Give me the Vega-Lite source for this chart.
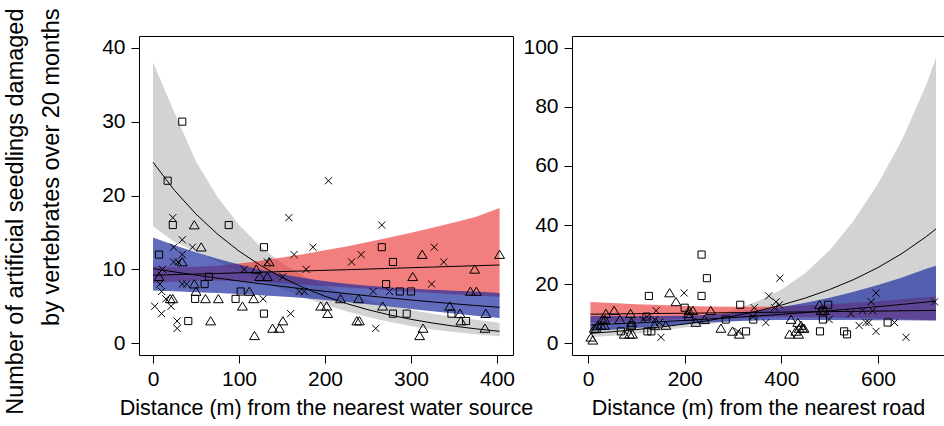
{
  "$schema": "https://vega.github.io/schema/vega-lite/v6.json",
  "background": "white",
  "padding": {"left": 2, "top": 7, "right": 0, "bottom": 0},
  "autosize": {"type": "pad"},
  "bounds": "flush",
  "spacing": 59,
  "config": {
    "view": {"stroke": "black", "strokeWidth": 1},
    "axis": {"domain": false, "grid": false, "tickColor": "black", "tickSize": 8, "labelFont": "Liberation Sans", "labelFontSize": 21, "labelColor": "black", "titleFont": "Liberation Sans", "titleFontSize": 21.5, "titleFontWeight": "normal", "titleColor": "black", "labelPadding": 5, "titlePadding": 8},
    "axisY": {"labelPadding": 6}
  },
  "datasets": {
    "leftBands": [
      {"g": "gray", "x": 0, "lo": 15.8, "fit": 24.5, "hi": 38.0},
      {"g": "gray", "x": 25, "lo": 13.7, "fit": 20.69, "hi": 31.2},
      {"g": "gray", "x": 50, "lo": 12.4, "fit": 17.48, "hi": 24.6},
      {"g": "gray", "x": 75, "lo": 11.0, "fit": 14.77, "hi": 19.8},
      {"g": "gray", "x": 100, "lo": 9.71, "fit": 12.47, "hi": 16.0},
      {"g": "gray", "x": 125, "lo": 8.45, "fit": 10.53, "hi": 13.1},
      {"g": "gray", "x": 150, "lo": 7.29, "fit": 8.9, "hi": 10.87},
      {"g": "gray", "x": 175, "lo": 6.19, "fit": 7.52, "hi": 9.14},
      {"g": "gray", "x": 200, "lo": 5.2, "fit": 6.35, "hi": 7.75},
      {"g": "gray", "x": 225, "lo": 4.31, "fit": 5.37, "hi": 6.69},
      {"g": "gray", "x": 250, "lo": 3.53, "fit": 4.53, "hi": 5.82},
      {"g": "gray", "x": 275, "lo": 2.87, "fit": 3.83, "hi": 5.12},
      {"g": "gray", "x": 300, "lo": 2.32, "fit": 3.23, "hi": 4.5},
      {"g": "gray", "x": 325, "lo": 1.87, "fit": 2.73, "hi": 3.99},
      {"g": "gray", "x": 350, "lo": 1.5, "fit": 2.31, "hi": 3.55},
      {"g": "gray", "x": 375, "lo": 1.2, "fit": 1.95, "hi": 3.17},
      {"g": "gray", "x": 403, "lo": 0.94, "fit": 1.61, "hi": 2.78},
      {"g": "red", "x": 0, "lo": 8.13, "fit": 9.2, "hi": 10.41},
      {"g": "red", "x": 25, "lo": 8.35, "fit": 9.28, "hi": 10.32},
      {"g": "red", "x": 50, "lo": 8.47, "fit": 9.36, "hi": 10.35},
      {"g": "red", "x": 75, "lo": 8.49, "fit": 9.44, "hi": 10.5},
      {"g": "red", "x": 100, "lo": 8.42, "fit": 9.53, "hi": 10.79},
      {"g": "red", "x": 125, "lo": 8.28, "fit": 9.61, "hi": 11.15},
      {"g": "red", "x": 150, "lo": 8.12, "fit": 9.7, "hi": 11.59},
      {"g": "red", "x": 175, "lo": 7.93, "fit": 9.78, "hi": 12.06},
      {"g": "red", "x": 200, "lo": 7.75, "fit": 9.87, "hi": 12.57},
      {"g": "red", "x": 225, "lo": 7.55, "fit": 9.95, "hi": 13.11},
      {"g": "red", "x": 250, "lo": 7.36, "fit": 10.04, "hi": 13.7},
      {"g": "red", "x": 275, "lo": 7.17, "fit": 10.13, "hi": 14.31},
      {"g": "red", "x": 300, "lo": 6.98, "fit": 10.22, "hi": 14.96},
      {"g": "red", "x": 325, "lo": 6.8, "fit": 10.31, "hi": 15.64},
      {"g": "red", "x": 350, "lo": 6.62, "fit": 10.4, "hi": 16.35},
      {"g": "red", "x": 375, "lo": 6.44, "fit": 10.49, "hi": 17.09},
      {"g": "red", "x": 403, "lo": 6.3, "fit": 10.59, "hi": 18.3},
      {"g": "blue", "x": 0, "lo": 7.12, "fit": 10.1, "hi": 14.32},
      {"g": "blue", "x": 25, "lo": 7.02, "fit": 9.65, "hi": 13.27},
      {"g": "blue", "x": 50, "lo": 6.91, "fit": 9.22, "hi": 12.3},
      {"g": "blue", "x": 75, "lo": 6.79, "fit": 8.81, "hi": 11.43},
      {"g": "blue", "x": 100, "lo": 6.66, "fit": 8.42, "hi": 10.65},
      {"g": "blue", "x": 125, "lo": 6.5, "fit": 8.05, "hi": 9.95},
      {"g": "blue", "x": 150, "lo": 6.32, "fit": 7.69, "hi": 9.35},
      {"g": "blue", "x": 175, "lo": 6.11, "fit": 7.35, "hi": 8.83},
      {"g": "blue", "x": 200, "lo": 5.86, "fit": 7.02, "hi": 8.4},
      {"g": "blue", "x": 225, "lo": 5.58, "fit": 6.71, "hi": 8.06},
      {"g": "blue", "x": 250, "lo": 5.28, "fit": 6.41, "hi": 7.78},
      {"g": "blue", "x": 275, "lo": 4.96, "fit": 6.12, "hi": 7.56},
      {"g": "blue", "x": 300, "lo": 4.64, "fit": 5.85, "hi": 7.38},
      {"g": "blue", "x": 325, "lo": 4.32, "fit": 5.59, "hi": 7.24},
      {"g": "blue", "x": 350, "lo": 4.01, "fit": 5.34, "hi": 7.11},
      {"g": "blue", "x": 375, "lo": 3.72, "fit": 5.1, "hi": 7.0},
      {"g": "blue", "x": 403, "lo": 3.42, "fit": 4.85, "hi": 6.8}
    ],
    "rightBands": [
      {"g": "gray", "x": 5, "lo": 2.01, "fit": 3.32, "hi": 5.47},
      {"g": "gray", "x": 50, "lo": 2.54, "fit": 3.87, "hi": 5.9},
      {"g": "gray", "x": 100, "lo": 3.28, "fit": 4.6, "hi": 6.45},
      {"g": "gray", "x": 150, "lo": 4.2, "fit": 5.46, "hi": 7.1},
      {"g": "gray", "x": 200, "lo": 5.29, "fit": 6.48, "hi": 7.94},
      {"g": "gray", "x": 250, "lo": 6.43, "fit": 7.7, "hi": 9.21},
      {"g": "gray", "x": 300, "lo": 7.45, "fit": 9.14, "hi": 11.2},
      {"g": "gray", "x": 350, "lo": 8.34, "fit": 10.85, "hi": 14.1},
      {"g": "gray", "x": 400, "lo": 9.18, "fit": 12.88, "hi": 18.07},
      {"g": "gray", "x": 450, "lo": 10.03, "fit": 15.3, "hi": 23.8},
      {"g": "gray", "x": 500, "lo": 10.9, "fit": 18.16, "hi": 31.5},
      {"g": "gray", "x": 550, "lo": 11.83, "fit": 21.56, "hi": 41.5},
      {"g": "gray", "x": 600, "lo": 12.81, "fit": 25.6, "hi": 54.0},
      {"g": "gray", "x": 650, "lo": 13.87, "fit": 30.4, "hi": 69.0},
      {"g": "gray", "x": 700, "lo": 15.0, "fit": 36.1, "hi": 87.5},
      {"g": "gray", "x": 720, "lo": 15.48, "fit": 38.67, "hi": 96.6},
      {"g": "red", "x": 5, "lo": 6.91, "fit": 9.81, "hi": 13.92},
      {"g": "red", "x": 50, "lo": 7.2, "fit": 9.89, "hi": 13.57},
      {"g": "red", "x": 100, "lo": 7.53, "fit": 9.97, "hi": 13.21},
      {"g": "red", "x": 150, "lo": 7.85, "fit": 10.06, "hi": 12.89},
      {"g": "red", "x": 200, "lo": 8.15, "fit": 10.15, "hi": 12.63},
      {"g": "red", "x": 250, "lo": 8.42, "fit": 10.23, "hi": 12.43},
      {"g": "red", "x": 300, "lo": 8.64, "fit": 10.32, "hi": 12.33},
      {"g": "red", "x": 350, "lo": 8.78, "fit": 10.41, "hi": 12.34},
      {"g": "red", "x": 400, "lo": 8.83, "fit": 10.5, "hi": 12.49},
      {"g": "red", "x": 450, "lo": 8.78, "fit": 10.59, "hi": 12.77},
      {"g": "red", "x": 500, "lo": 8.67, "fit": 10.68, "hi": 13.16},
      {"g": "red", "x": 550, "lo": 8.51, "fit": 10.78, "hi": 13.65},
      {"g": "red", "x": 600, "lo": 8.32, "fit": 10.87, "hi": 14.21},
      {"g": "red", "x": 650, "lo": 8.11, "fit": 10.97, "hi": 14.84},
      {"g": "red", "x": 700, "lo": 7.88, "fit": 11.06, "hi": 15.52},
      {"g": "red", "x": 720, "lo": 7.79, "fit": 11.1, "hi": 15.81},
      {"g": "blue", "x": 5, "lo": 4.09, "fit": 6.14, "hi": 9.2},
      {"g": "blue", "x": 50, "lo": 4.57, "fit": 6.47, "hi": 9.17},
      {"g": "blue", "x": 100, "lo": 5.14, "fit": 6.86, "hi": 9.16},
      {"g": "blue", "x": 150, "lo": 5.77, "fit": 7.28, "hi": 9.19},
      {"g": "blue", "x": 200, "lo": 6.42, "fit": 7.72, "hi": 9.3},
      {"g": "blue", "x": 250, "lo": 7.01, "fit": 8.19, "hi": 9.57},
      {"g": "blue", "x": 300, "lo": 7.46, "fit": 8.69, "hi": 10.12},
      {"g": "blue", "x": 350, "lo": 7.72, "fit": 9.22, "hi": 11.02},
      {"g": "blue", "x": 400, "lo": 7.83, "fit": 9.78, "hi": 12.22},
      {"g": "blue", "x": 450, "lo": 7.86, "fit": 10.37, "hi": 13.68},
      {"g": "blue", "x": 500, "lo": 7.86, "fit": 11.0, "hi": 15.4},
      {"g": "blue", "x": 550, "lo": 7.83, "fit": 11.67, "hi": 17.39},
      {"g": "blue", "x": 600, "lo": 7.79, "fit": 12.38, "hi": 19.67},
      {"g": "blue", "x": 650, "lo": 7.75, "fit": 13.14, "hi": 22.28},
      {"g": "blue", "x": 700, "lo": 7.69, "fit": 13.93, "hi": 25.23},
      {"g": "blue", "x": 720, "lo": 7.67, "fit": 14.27, "hi": 26.2}
    ],
    "leftPts": [
      {"x": 34, "y": 30, "s": "sq"}, {"x": 17, "y": 22, "s": "sq"}, {"x": 23, "y": 16, "s": "sq"}, {"x": 88, "y": 16, "s": "sq"},
      {"x": 129, "y": 13, "s": "sq"}, {"x": 7, "y": 12, "s": "sq"}, {"x": 65, "y": 9, "s": "sq"}, {"x": 60, "y": 8, "s": "sq"},
      {"x": 49, "y": 6, "s": "sq"}, {"x": 96, "y": 6, "s": "sq"}, {"x": 102, "y": 7, "s": "sq"}, {"x": 41, "y": 3, "s": "sq"},
      {"x": 129, "y": 4, "s": "sq"}, {"x": 266, "y": 13, "s": "sq"}, {"x": 279, "y": 11, "s": "sq"}, {"x": 271, "y": 8, "s": "sq"},
      {"x": 287, "y": 7, "s": "sq"}, {"x": 300, "y": 7, "s": "sq"}, {"x": 279, "y": 4, "s": "sq"}, {"x": 295, "y": 4, "s": "sq"},
      {"x": 347, "y": 4, "s": "sq"}, {"x": 364, "y": 3, "s": "sq"},
      {"x": 48, "y": 16, "s": "tri"}, {"x": 56, "y": 13, "s": "tri"}, {"x": 34, "y": 11, "s": "tri"}, {"x": 7, "y": 9, "s": "tri"},
      {"x": 48, "y": 8, "s": "tri"}, {"x": 50, "y": 7, "s": "tri"}, {"x": 20, "y": 6, "s": "tri"}, {"x": 23, "y": 6, "s": "tri"},
      {"x": 61, "y": 6, "s": "tri"}, {"x": 76, "y": 6, "s": "tri"}, {"x": 112, "y": 7, "s": "tri"}, {"x": 104, "y": 5, "s": "tri"},
      {"x": 117, "y": 6, "s": "tri"}, {"x": 67, "y": 3, "s": "tri"}, {"x": 118, "y": 1, "s": "tri"}, {"x": 151, "y": 3, "s": "tri"},
      {"x": 139, "y": 2, "s": "tri"}, {"x": 147, "y": 2, "s": "tri"}, {"x": 120, "y": 10, "s": "tri"}, {"x": 124, "y": 9, "s": "tri"},
      {"x": 133, "y": 9, "s": "tri"}, {"x": 135, "y": 11, "s": "tri"}, {"x": 195, "y": 5, "s": "tri"}, {"x": 202, "y": 5, "s": "tri"},
      {"x": 203, "y": 4, "s": "tri"}, {"x": 218, "y": 6, "s": "tri"}, {"x": 239, "y": 6, "s": "tri"}, {"x": 267, "y": 5, "s": "tri"},
      {"x": 237, "y": 3, "s": "tri"}, {"x": 240, "y": 3, "s": "tri"}, {"x": 313, "y": 12, "s": "tri"}, {"x": 403, "y": 12, "s": "tri"},
      {"x": 374, "y": 10, "s": "tri"}, {"x": 302, "y": 9, "s": "tri"}, {"x": 369, "y": 7, "s": "tri"}, {"x": 376, "y": 7, "s": "tri"},
      {"x": 345, "y": 5, "s": "tri"}, {"x": 357, "y": 4, "s": "tri"}, {"x": 387, "y": 4, "s": "tri"}, {"x": 358, "y": 3, "s": "tri"},
      {"x": 314, "y": 2, "s": "tri"}, {"x": 310, "y": 1, "s": "tri"}, {"x": 386, "y": 2, "s": "tri"},
      {"x": 204, "y": 22, "s": "x"}, {"x": 23, "y": 17, "s": "x"}, {"x": 158, "y": 17, "s": "x"}, {"x": 34, "y": 14, "s": "x"},
      {"x": 24, "y": 13, "s": "x"}, {"x": 46, "y": 13, "s": "x"}, {"x": 186, "y": 13, "s": "x"}, {"x": 164, "y": 12, "s": "x"},
      {"x": 24, "y": 11, "s": "x"}, {"x": 29, "y": 11, "s": "x"}, {"x": 34, "y": 12, "s": "x"}, {"x": 11, "y": 10, "s": "x"},
      {"x": 8, "y": 8, "s": "x"}, {"x": 34, "y": 8, "s": "x"}, {"x": 39, "y": 8, "s": "x"}, {"x": 10, "y": 7, "s": "x"},
      {"x": 15, "y": 6, "s": "x"}, {"x": 2, "y": 5, "s": "x"}, {"x": 21, "y": 5, "s": "x"}, {"x": 10, "y": 4, "s": "x"},
      {"x": 28, "y": 3, "s": "x"}, {"x": 28, "y": 2, "s": "x"}, {"x": 106, "y": 10, "s": "x"}, {"x": 128, "y": 6, "s": "x"},
      {"x": 151, "y": 9, "s": "x"}, {"x": 178, "y": 10, "s": "x"}, {"x": 170, "y": 7, "s": "x"}, {"x": 176, "y": 7, "s": "x"},
      {"x": 160, "y": 4, "s": "x"}, {"x": 266, "y": 16, "s": "x"}, {"x": 242, "y": 12, "s": "x"}, {"x": 231, "y": 11, "s": "x"},
      {"x": 256, "y": 7, "s": "x"}, {"x": 259, "y": 2, "s": "x"}, {"x": 327, "y": 13, "s": "x"}, {"x": 338, "y": 11, "s": "x"},
      {"x": 324, "y": 8, "s": "x"}, {"x": 275, "y": 7, "s": "x"}, {"x": 133, "y": 11, "s": "x"}
    ],
    "rightPts": [
      {"x": 235, "y": 30, "s": "sq"}, {"x": 246, "y": 22, "s": "sq"}, {"x": 126, "y": 16, "s": "sq"}, {"x": 235, "y": 16, "s": "sq"},
      {"x": 315, "y": 13, "s": "sq"}, {"x": 200, "y": 12, "s": "sq"}, {"x": 285, "y": 8, "s": "sq"}, {"x": 342, "y": 8, "s": "sq"},
      {"x": 68, "y": 4, "s": "sq"}, {"x": 123, "y": 4, "s": "sq"}, {"x": 327, "y": 4, "s": "sq"}, {"x": 90, "y": 6, "s": "sq"},
      {"x": 121, "y": 9, "s": "sq"}, {"x": 131, "y": 4, "s": "sq"}, {"x": 497, "y": 13, "s": "sq"}, {"x": 486, "y": 11, "s": "sq"},
      {"x": 486, "y": 8, "s": "sq"}, {"x": 480, "y": 4, "s": "sq"}, {"x": 530, "y": 4, "s": "sq"}, {"x": 536, "y": 3, "s": "sq"},
      {"x": 620, "y": 7, "s": "sq"},
      {"x": 169, "y": 17, "s": "tri"}, {"x": 182, "y": 14, "s": "tri"}, {"x": 54, "y": 11, "s": "tri"}, {"x": 37, "y": 10, "s": "tri"},
      {"x": 88, "y": 10, "s": "tri"}, {"x": 209, "y": 11, "s": "tri"}, {"x": 209, "y": 9, "s": "tri"}, {"x": 217, "y": 11, "s": "tri"},
      {"x": 254, "y": 11, "s": "tri"}, {"x": 66, "y": 8, "s": "tri"}, {"x": 30, "y": 8, "s": "tri"}, {"x": 35, "y": 8, "s": "tri"},
      {"x": 27, "y": 6, "s": "tri"}, {"x": 34, "y": 6, "s": "tri"}, {"x": 89, "y": 6, "s": "tri"}, {"x": 90, "y": 7, "s": "tri"},
      {"x": 138, "y": 6, "s": "tri"}, {"x": 161, "y": 6, "s": "tri"}, {"x": 223, "y": 7, "s": "tri"}, {"x": 241, "y": 8, "s": "tri"},
      {"x": 275, "y": 5, "s": "tri"}, {"x": 299, "y": 4, "s": "tri"}, {"x": 313, "y": 3, "s": "tri"}, {"x": 75, "y": 3, "s": "tri"},
      {"x": 92, "y": 3, "s": "tri"}, {"x": 86, "y": 3, "s": "tri"}, {"x": 6, "y": 2, "s": "tri"}, {"x": 10, "y": 1, "s": "tri"},
      {"x": 13, "y": 5, "s": "tri"}, {"x": 17, "y": 5, "s": "tri"}, {"x": 20, "y": 6, "s": "tri"}, {"x": 420, "y": 8, "s": "tri"},
      {"x": 434, "y": 7, "s": "tri"}, {"x": 441, "y": 6, "s": "tri"}, {"x": 437, "y": 5, "s": "tri"}, {"x": 447, "y": 5, "s": "tri"},
      {"x": 430, "y": 4, "s": "tri"}, {"x": 417, "y": 3, "s": "tri"}, {"x": 436, "y": 3, "s": "tri"}, {"x": 479, "y": 13, "s": "tri"},
      {"x": 482, "y": 11, "s": "tri"}, {"x": 489, "y": 11, "s": "tri"}, {"x": 444, "y": 5, "s": "tri"}, {"x": 208, "y": 10, "s": "tri"},
      {"x": 199, "y": 17, "s": "x"}, {"x": 141, "y": 11, "s": "x"}, {"x": 114, "y": 8, "s": "x"}, {"x": 122, "y": 9, "s": "x"},
      {"x": 138, "y": 8, "s": "x"}, {"x": 148, "y": 7, "s": "x"}, {"x": 151, "y": 2, "s": "x"}, {"x": 310, "y": 4, "s": "x"},
      {"x": 344, "y": 12, "s": "x"}, {"x": 397, "y": 22, "s": "x"}, {"x": 374, "y": 16, "s": "x"}, {"x": 389, "y": 14, "s": "x"},
      {"x": 396, "y": 13, "s": "x"}, {"x": 386, "y": 12, "s": "x"}, {"x": 341, "y": 9, "s": "x"}, {"x": 368, "y": 7, "s": "x"},
      {"x": 596, "y": 17, "s": "x"}, {"x": 586, "y": 14, "s": "x"}, {"x": 568, "y": 11, "s": "x"}, {"x": 589, "y": 11, "s": "x"},
      {"x": 544, "y": 10, "s": "x"}, {"x": 499, "y": 8, "s": "x"}, {"x": 561, "y": 6, "s": "x"}, {"x": 575, "y": 7, "s": "x"},
      {"x": 581, "y": 7, "s": "x"}, {"x": 634, "y": 7, "s": "x"}, {"x": 596, "y": 4, "s": "x"}, {"x": 658, "y": 2, "s": "x"},
      {"x": 717, "y": 14, "s": "x"}
    ]
  },
  "hconcat": [
    {
      "width": 374,
      "height": 319,
      "encoding": {
        "x": {"field": "x", "type": "quantitative", "scale": {"domain": [-16.3, 418.6], "nice": false, "zero": false},
          "axis": {"values": [0, 100, 200, 300, 400], "title": "Distance (m) from the nearest water source"}}
      },
      "layer": [
        {"data": {"name": "leftBands"}, "transform": [{"filter": "datum.g === 'gray'"}],
          "mark": {"type": "area", "color": "#d3d3d3", "opacity": 1},
          "encoding": {"y": {"field": "lo", "type": "quantitative", "scale": {"domain": [-1.6, 41.6], "nice": false, "zero": false},
            "axis": {"values": [0, 10, 20, 30, 40], "title": ["Number of artificial seedlings damaged", "by vertebrates over 20 months"], "titleFontSize": 23.5, "titleLineHeight": 36, "titleX": -136, "titleY": -28, "titleBaseline": "top", "titleAlign": "right", "titleAnchor": null}},
            "y2": {"field": "hi"}}},
        {"data": {"name": "leftBands"}, "transform": [{"filter": "datum.g === 'red'"}],
          "mark": {"type": "area", "color": "#eb2828", "opacity": 0.6},
          "encoding": {"y": {"field": "lo", "type": "quantitative"}, "y2": {"field": "hi"}}},
        {"data": {"name": "leftBands"}, "transform": [{"filter": "datum.g === 'blue'"}],
          "mark": {"type": "area", "color": "#1e2da0", "opacity": 0.7},
          "encoding": {"y": {"field": "lo", "type": "quantitative"}, "y2": {"field": "hi"}}},
        {"data": {"name": "leftBands"},
          "mark": {"type": "line", "color": "black", "strokeWidth": 1},
          "encoding": {"y": {"field": "fit", "type": "quantitative"}, "detail": {"field": "g"}}},
        {"data": {"name": "leftPts"},
          "mark": {"type": "point", "filled": false, "stroke": "black", "strokeWidth": 1, "opacity": 1, "size": 120},
          "encoding": {"y": {"field": "y", "type": "quantitative"},
            "shape": {"field": "s", "type": "nominal", "legend": null,
              "scale": {"domain": ["sq", "tri", "x"], "range": ["M-0.65,-0.65L0.65,-0.65L0.65,0.65L-0.65,0.65Z", "M0,-0.8L0.9,0.7L-0.9,0.7Z", "M-0.65,-0.65L0.65,0.65M-0.65,0.65L0.65,-0.65"]}}}}
      ]
    },
    {
      "width": 372,
      "height": 319,
      "encoding": {
        "x": {"field": "x", "type": "quantitative", "scale": {"domain": [-33.1, 736.6], "nice": false, "zero": false},
          "axis": {"values": [0, 200, 400, 600], "title": "Distance (m) from the nearest road"}}
      },
      "layer": [
        {"data": {"name": "rightBands"}, "transform": [{"filter": "datum.g === 'gray'"}],
          "mark": {"type": "area", "color": "#d3d3d3", "opacity": 1},
          "encoding": {"y": {"field": "lo", "type": "quantitative", "scale": {"domain": [-4, 104], "nice": false, "zero": false},
            "axis": {"values": [0, 20, 40, 60, 80, 100], "title": null}},
            "y2": {"field": "hi"}}},
        {"data": {"name": "rightBands"}, "transform": [{"filter": "datum.g === 'red'"}],
          "mark": {"type": "area", "color": "#eb2828", "opacity": 0.6},
          "encoding": {"y": {"field": "lo", "type": "quantitative"}, "y2": {"field": "hi"}}},
        {"data": {"name": "rightBands"}, "transform": [{"filter": "datum.g === 'blue'"}],
          "mark": {"type": "area", "color": "#1e2da0", "opacity": 0.7},
          "encoding": {"y": {"field": "lo", "type": "quantitative"}, "y2": {"field": "hi"}}},
        {"data": {"name": "rightBands"},
          "mark": {"type": "line", "color": "black", "strokeWidth": 1},
          "encoding": {"y": {"field": "fit", "type": "quantitative"}, "detail": {"field": "g"}}},
        {"data": {"name": "rightPts"},
          "mark": {"type": "point", "filled": false, "stroke": "black", "strokeWidth": 1, "opacity": 1, "size": 120},
          "encoding": {"y": {"field": "y", "type": "quantitative"},
            "shape": {"field": "s", "type": "nominal", "legend": null,
              "scale": {"domain": ["sq", "tri", "x"], "range": ["M-0.65,-0.65L0.65,-0.65L0.65,0.65L-0.65,0.65Z", "M0,-0.8L0.9,0.7L-0.9,0.7Z", "M-0.65,-0.65L0.65,0.65M-0.65,0.65L0.65,-0.65"]}}}}
      ]
    }
  ]
}
